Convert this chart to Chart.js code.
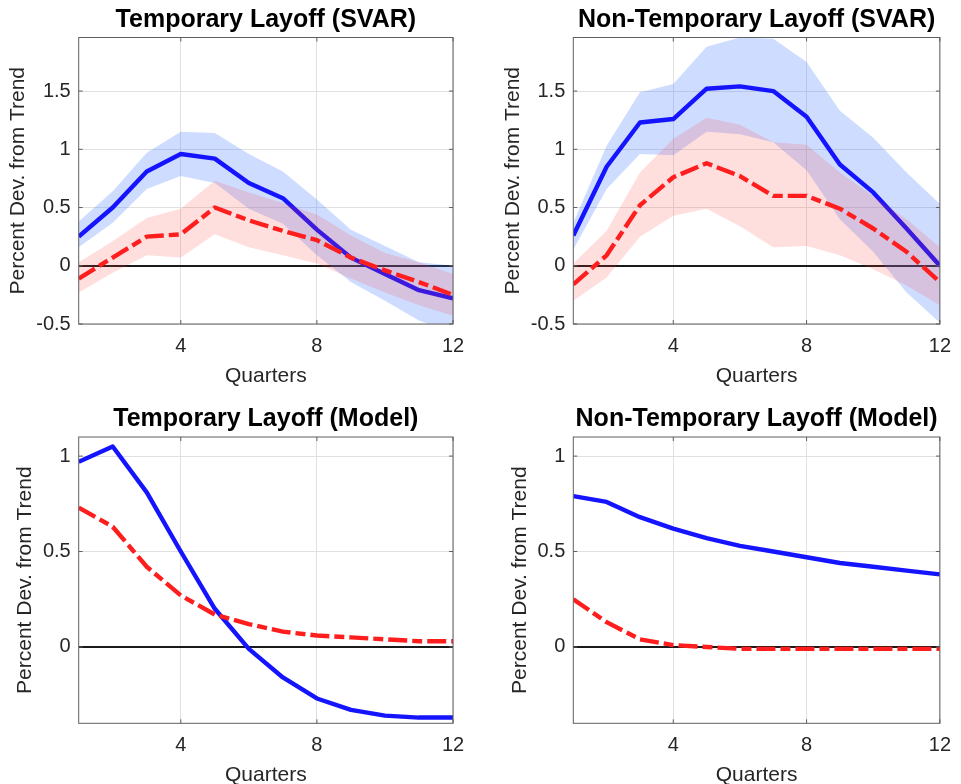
<!DOCTYPE html>
<html>
<head>
<meta charset="utf-8">
<script src="https://cdn.jsdelivr.net/npm/chart.js@4/dist/chart.umd.min.js"></script>
<style>
  html, body { margin: 0; padding: 0; background: #fff; width: 961px; height: 784px; overflow: hidden; }
  canvas { position: absolute; }
</style>
</head>
<body>
<canvas id="tl" width="480" height="392" style="left:0px;top:0px;width:480px;height:392px"></canvas>
<canvas id="tr" width="481" height="392" style="left:480px;top:0px;width:481px;height:392px"></canvas>
<canvas id="bl" width="480" height="399" style="left:0px;top:392px;width:480px;height:399px"></canvas>
<canvas id="br" width="481" height="399" style="left:480px;top:392px;width:481px;height:399px"></canvas>
<script>
// ---------------- data ----------------
const quarters = [1, 2, 3, 4, 5, 6, 7, 8, 9, 10, 11, 12];
const xTickValues = [4, 8, 12];
const yTicksSVAR = [-0.5, 0, 0.5, 1, 1.5];
const yTicksModel = [0, 0.5, 1];

// Temporary Layoff (SVAR)
const tempSvarBlue   = [0.25, 0.50, 0.81, 0.96, 0.92, 0.71, 0.58, 0.31, 0.07, -0.07, -0.21, -0.28];
const tempSvarBlueHi = [0.38, 0.64, 0.97, 1.15, 1.14, 0.96, 0.81, 0.57, 0.31, 0.17, 0.03, 0.00];
const tempSvarBlueLo = [0.16, 0.37, 0.66, 0.77, 0.71, 0.49, 0.36, 0.09, -0.14, -0.30, -0.47, -0.58];
const tempSvarRed    = [-0.11, 0.07, 0.25, 0.27, 0.50, 0.39, 0.30, 0.22, 0.07, -0.04, -0.14, -0.25];
const tempSvarRedHi  = [0.03, 0.21, 0.41, 0.49, 0.73, 0.63, 0.54, 0.44, 0.26, 0.11, 0.03, -0.07];
const tempSvarRedLo  = [-0.23, -0.06, 0.09, 0.07, 0.27, 0.16, 0.09, 0.02, -0.11, -0.23, -0.34, -0.43];

// Non-Temporary Layoff (SVAR)
const nonTempSvarBlue   = [0.26, 0.85, 1.23, 1.26, 1.52, 1.54, 1.50, 1.28, 0.87, 0.63, 0.32, 0.00];
const nonTempSvarBlueHi = [0.37, 1.03, 1.49, 1.56, 1.88, 1.96, 1.95, 1.75, 1.33, 1.10, 0.80, 0.53];
const nonTempSvarBlueLo = [0.14, 0.66, 0.96, 0.95, 1.15, 1.13, 1.06, 0.82, 0.40, 0.12, -0.23, -0.49];
const nonTempSvarRed    = [-0.16, 0.09, 0.52, 0.76, 0.88, 0.77, 0.60, 0.60, 0.49, 0.32, 0.12, -0.14];
const nonTempSvarRedHi  = [0.02, 0.30, 0.80, 1.09, 1.27, 1.21, 1.06, 1.04, 0.80, 0.60, 0.40, 0.16];
const nonTempSvarRedLo  = [-0.30, -0.10, 0.25, 0.43, 0.49, 0.34, 0.16, 0.17, 0.09, -0.03, -0.17, -0.34];

// Temporary Layoff (Model)
const tempModelBlue = [0.97, 1.05, 0.81, 0.50, 0.20, -0.01, -0.16, -0.27, -0.33, -0.36, -0.37, -0.37];
const tempModelRed  = [0.73, 0.63, 0.42, 0.27, 0.17, 0.12, 0.08, 0.06, 0.05, 0.04, 0.03, 0.03];

// Non-Temporary Layoff (Model)
const nonTempModelBlue = [0.79, 0.76, 0.68, 0.62, 0.57, 0.53, 0.50, 0.47, 0.44, 0.42, 0.40, 0.38];
const nonTempModelRed  = [0.25, 0.13, 0.04, 0.01, 0.00, -0.01, -0.01, -0.01, -0.01, -0.01, -0.01, -0.01];

// ---------------- styling ----------------
const FONT = "'Liberation Sans', Arial, Helvetica, sans-serif";
const BLUE = 'rgb(20,20,255)';
const RED = 'rgb(255,30,30)';
const BLUE_BAND = 'rgba(60,120,255,0.25)';
const RED_BAND = 'rgba(255,60,60,0.17)';
const TEXT = '#262626';

const boxPlugin = {
  id: 'matlabBox',
  afterDatasetsDraw(chart) {
    const { ctx, chartArea: a, scales } = chart;
    ctx.save();
    ctx.strokeStyle = '#5f5f5f';
    ctx.lineWidth = 1;
    ctx.beginPath();
    const tl = 4;
    scales.y.ticks.forEach(t => {
      const y = scales.y.getPixelForValue(t.value);
      ctx.moveTo(a.left, y); ctx.lineTo(a.left + tl, y);
      ctx.moveTo(a.right, y); ctx.lineTo(a.right - tl, y);
    });
    scales.x.ticks.forEach(t => {
      const x = scales.x.getPixelForValue(t.value);
      ctx.moveTo(x, a.bottom); ctx.lineTo(x, a.bottom - tl);
      ctx.moveTo(x, a.top); ctx.lineTo(x, a.top + tl);
    });
    ctx.stroke();
    ctx.strokeRect(a.left, a.top, a.right - a.left, a.bottom - a.top);
    ctx.restore();
  }
};

function pts(vals) { return quarters.map((q, i) => ({ x: q, y: vals[i] })); }

function lineDs(vals, color, dashed) {
  return {
    data: pts(vals), borderColor: color, borderWidth: 4.4, pointRadius: 0,
    borderDash: dashed ? [19, 5, 10, 5] : [], borderCapStyle: 'butt',
    borderJoinStyle: 'round', fill: false, tension: 0
  };
}
function bandDs(hi, lo, color) {
  return [
    { data: pts(hi), borderWidth: 0, borderColor: 'rgba(0,0,0,0)', pointRadius: 0, fill: '+1', backgroundColor: color, tension: 0 },
    { data: pts(lo), borderWidth: 0, borderColor: 'rgba(0,0,0,0)', pointRadius: 0, fill: false, tension: 0 }
  ];
}

function makePanel(id, p) {
  // datasets: first drawn on top
  let datasets = [];
  if (p.redBand) {
    datasets = [
      lineDs(p.red, RED, true),
      ...bandDs(p.redBand[0], p.redBand[1], RED_BAND),
      lineDs(p.blue, BLUE, false),
      ...bandDs(p.blueBand[0], p.blueBand[1], BLUE_BAND)
    ];
  } else {
    datasets = [lineDs(p.red, RED, true), lineDs(p.blue, BLUE, false)];
  }
  new Chart(document.getElementById(id), {
    type: 'line',
    data: { datasets },
    plugins: [boxPlugin],
    options: {
      responsive: false,
      animation: false,
      events: [],
      layout: { padding: { left: 0, right: p.padRight, top: 0, bottom: 0 } },
      plugins: {
        legend: { display: false },
        tooltip: { enabled: false },
        title: {
          display: true, text: p.title, fullSize: false, color: '#000',
          font: { family: FONT, size: 25, weight: 'bold', lineHeight: 1.2 },
          padding: { top: p.titleTop, bottom: p.titleBottom }
        }
      },
      scales: {
        x: {
          type: 'linear', min: 1, max: 12,
          afterBuildTicks: s => { s.ticks = xTickValues.map(v => ({ value: v })); },
          afterFit: s => { s.height = p.xHeight; },
          grid: { color: '#e0e0e0', lineWidth: 1, drawTicks: false },
          border: { display: false },
          ticks: { padding: 10, color: TEXT, font: { family: FONT, size: 20 }, maxRotation: 0, callback: v => String(v) },
          title: { display: true, text: 'Quarters', color: TEXT, font: { family: FONT, size: 21, lineHeight: 1.2 }, padding: { top: 0, bottom: 3.5 } }
        },
        y: {
          type: 'linear', min: p.yMin, max: p.yMax,
          afterBuildTicks: s => { s.ticks = p.yTicks.map(v => ({ value: v })); },
          afterFit: s => { s.width = p.yWidth; },
          grid: {
            drawTicks: false,
            color: c => (c.tick && c.tick.value === 0) ? '#1a1a1a' : '#e0e0e0',
            lineWidth: c => (c.tick && c.tick.value === 0) ? 2 : 1
          },
          border: { display: false },
          ticks: { padding: 8, color: TEXT, font: { family: FONT, size: 20 }, callback: v => String(v) },
          title: { display: true, text: 'Percent Dev. from Trend', color: TEXT, font: { family: FONT, size: 21, lineHeight: 1.2 }, padding: { top: p.yTitlePad, bottom: 0 } }
        }
      }
    }
  });
}

makePanel('tl', {
  title: 'Temporary Layoff (SVAR)', blue: tempSvarBlue, red: tempSvarRed,
  blueBand: [tempSvarBlueHi, tempSvarBlueLo], redBand: [tempSvarRedHi, tempSvarRedLo],
  yMin: -0.5, yMax: 1.96, yTicks: yTicksSVAR,
  padRight: 27, yWidth: 78.7, xHeight: 68, titleTop: 5.5, titleBottom: 2, yTitlePad: 5.9
});
makePanel('tr', {
  title: 'Non-Temporary Layoff (SVAR)', blue: nonTempSvarBlue, red: nonTempSvarRed,
  blueBand: [nonTempSvarBlueHi, nonTempSvarBlueLo], redBand: [nonTempSvarRedHi, nonTempSvarRedLo],
  yMin: -0.5, yMax: 1.96, yTicks: yTicksSVAR,
  padRight: 11.7, yWidth: 93.3, xHeight: 68, titleTop: 5.5, titleBottom: 2, yTitlePad: 20.7
});
makePanel('bl', {
  title: 'Temporary Layoff (Model)', blue: tempModelBlue, red: tempModelRed,
  yMin: -0.4, yMax: 1.1, yTicks: yTicksModel,
  padRight: 27, yWidth: 78.7, xHeight: 67.7, titleTop: 12.5, titleBottom: 2.5, yTitlePad: 12.4
});
makePanel('br', {
  title: 'Non-Temporary Layoff (Model)', blue: nonTempModelBlue, red: nonTempModelRed,
  yMin: -0.4, yMax: 1.1, yTicks: yTicksModel,
  padRight: 11.7, yWidth: 93.3, xHeight: 67.7, titleTop: 12.5, titleBottom: 2.5, yTitlePad: 27.4
});
</script>
</body>
</html>
